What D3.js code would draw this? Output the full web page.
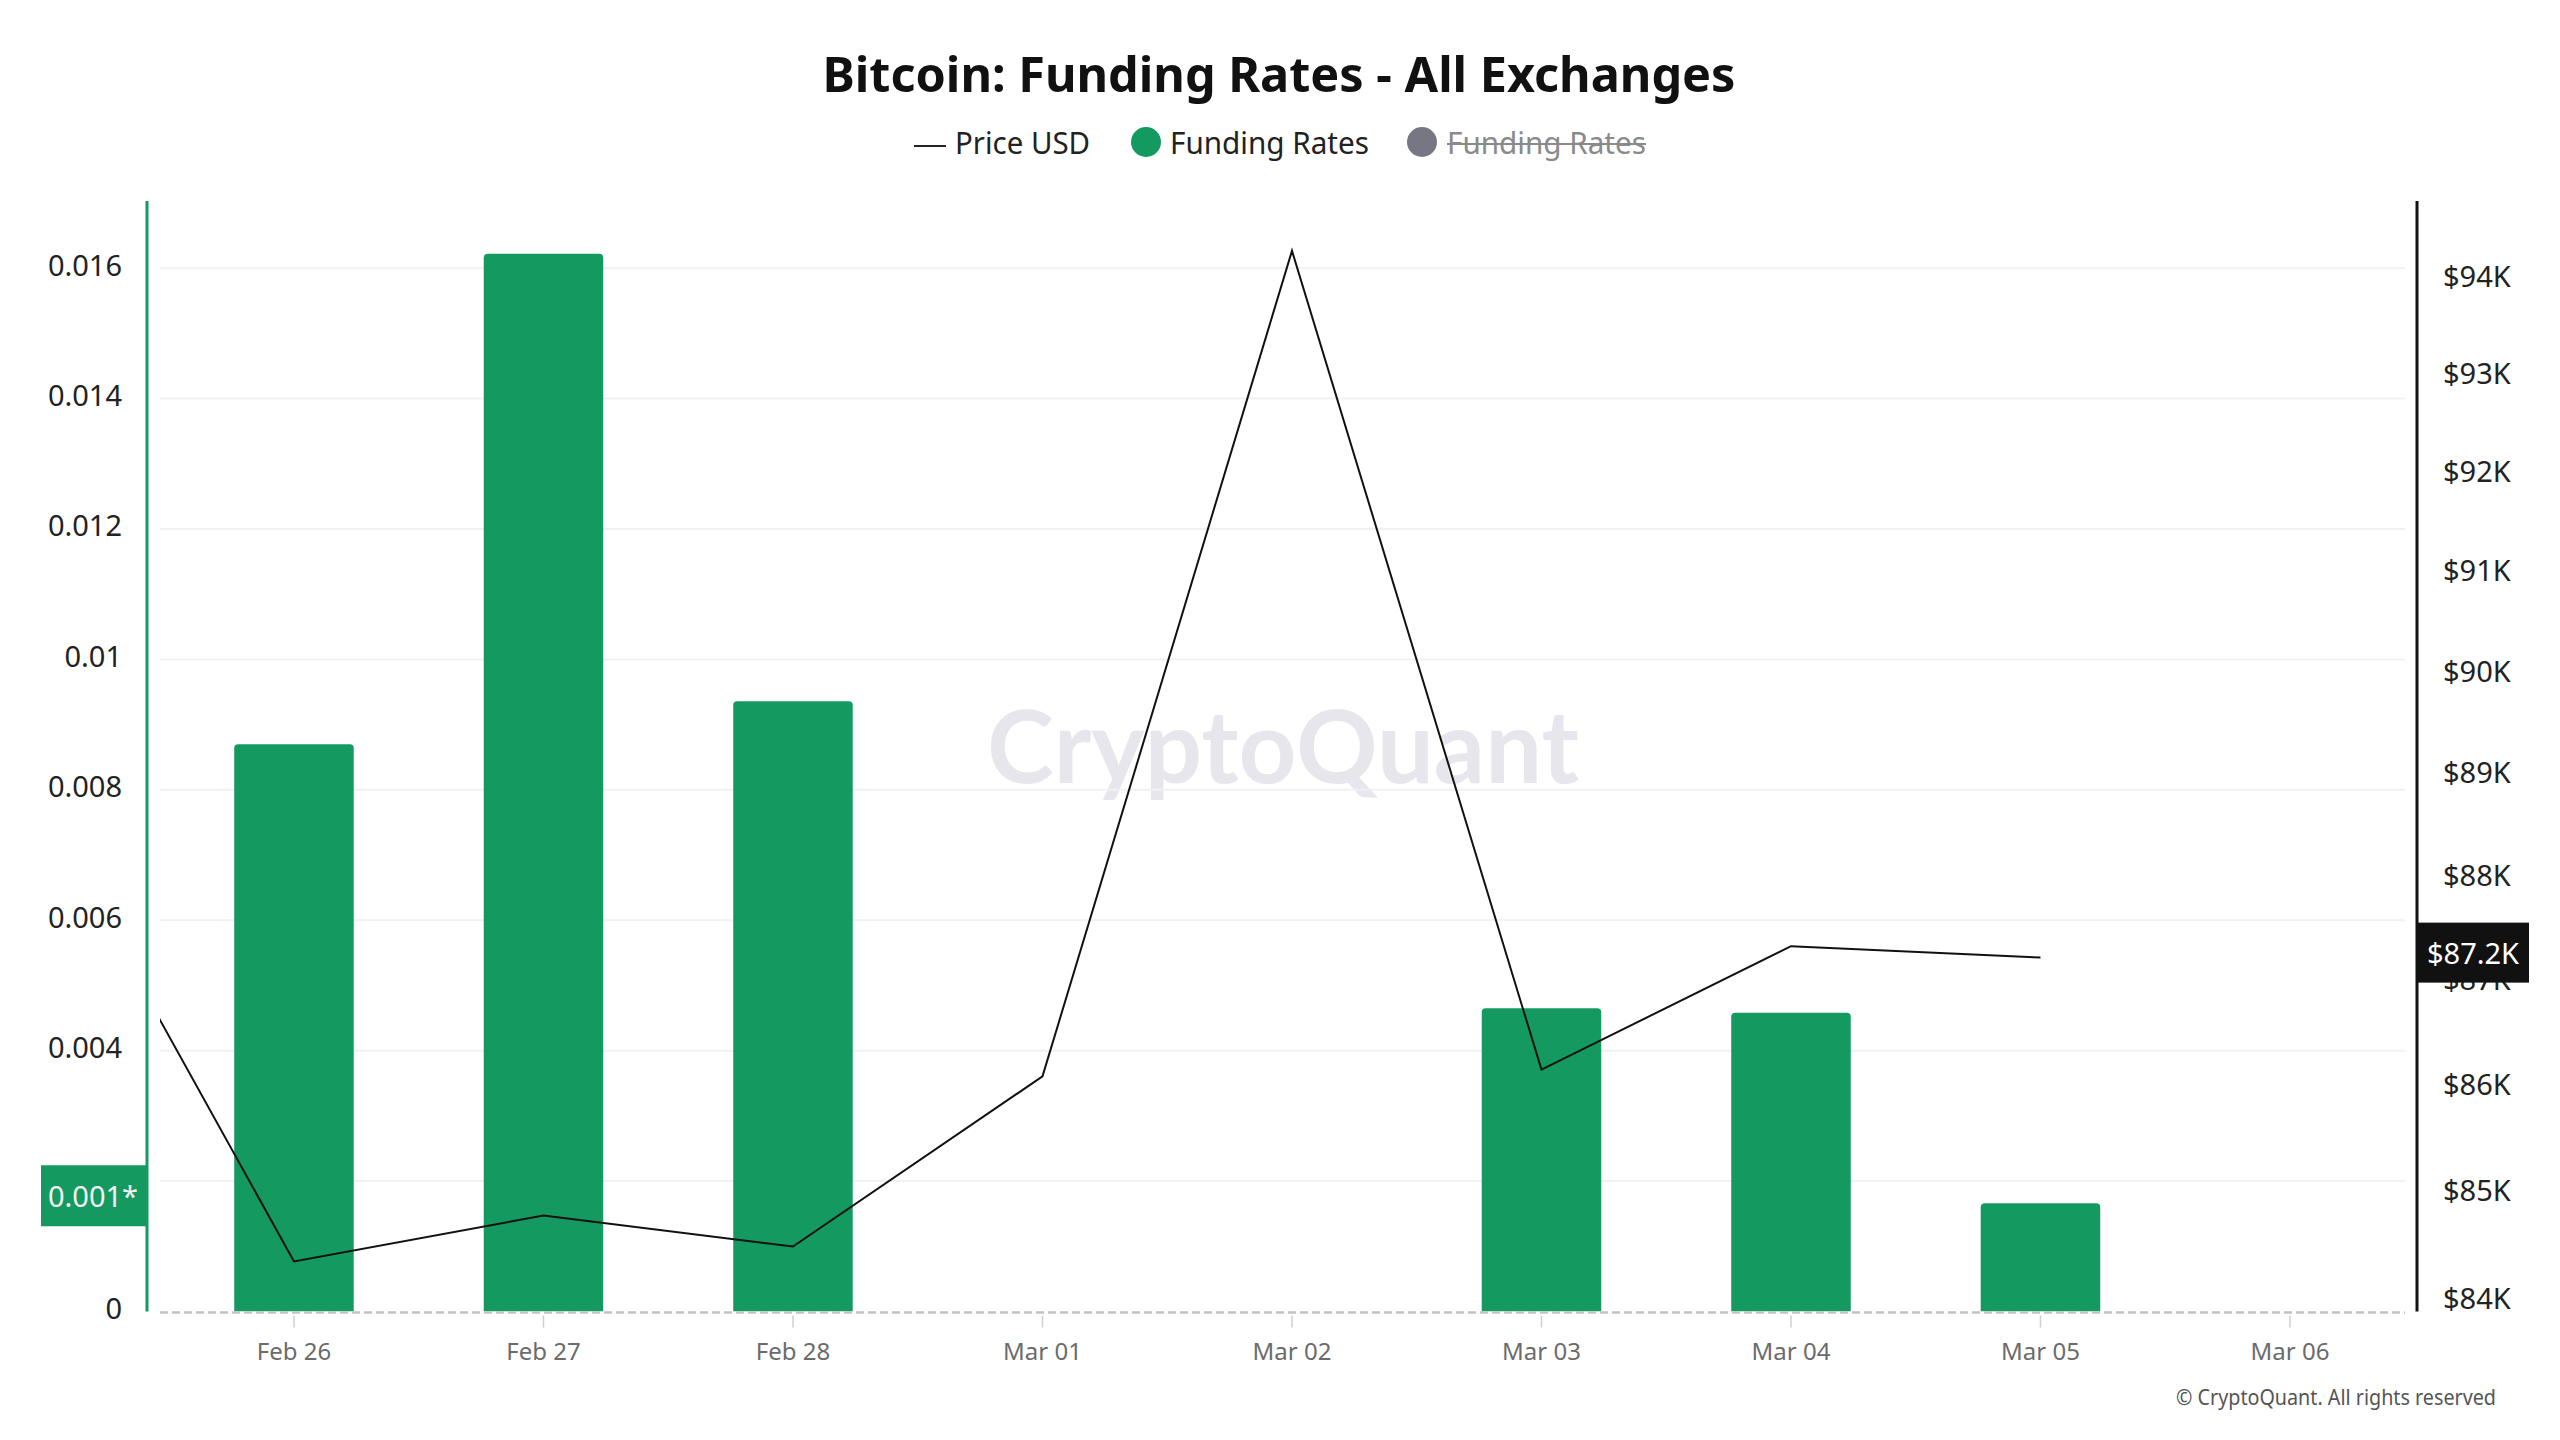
<!DOCTYPE html>
<html>
<head>
<meta charset="utf-8">
<script src="https://cdn.jsdelivr.net/npm/d3@7/dist/d3.min.js"></script>
<style>
  html, body { margin: 0; padding: 0; background: #ffffff; }
  svg { display: block; }
</style>
</head>
<body>
<svg id="chart" width="2560" height="1440"></svg>
<script>
// ---------------- DATA ----------------
const categories = ["Feb 25", "Feb 26", "Feb 27", "Feb 28", "Mar 01", "Mar 02", "Mar 03", "Mar 04", "Mar 05", "Mar 06"];
const fundingRates = [null, 0.0087, 0.01622, 0.00936, null, null, 0.00465, 0.00458, 0.00166, null];
const priceUSD = [88620, 84343, 84770, 84482, 86078, 94262, 86142, 87320, 87210, null];
const leftTicks = [0, 0.002, 0.004, 0.006, 0.008, 0.01, 0.012, 0.014, 0.016];
const leftTickLabelsShown = [0, 0.004, 0.006, 0.008, 0.01, 0.012, 0.014, 0.016]; // 0.002 hidden behind the last-value badge
const rightTicks = [84000, 85000, 86000, 87000, 88000, 89000, 90000, 91000, 92000, 93000, 94000];
const lastFundingLabel = "0.001*";
const lastPriceLabel = "$87.2K";
const titleText = "Bitcoin: Funding Rates - All Exchanges";

// ---------------- LAYOUT ----------------
const W = 2560, H = 1440;
const plot = { left: 160, right: 2405, top: 201, bottom: 1311.5 };
const leftAxisX = 147, rightAxisX = 2417;
const GREEN = "#149a61";
const FONT = "'Noto Sans', 'Open Sans', sans-serif";

const svg = d3.select("#chart");

const x = d3.scaleLinear().domain([0.463, 9.461]).range([plot.left, plot.right]);
const yL = d3.scaleLinear().domain([0, 0.01703]).range([plot.bottom, plot.top]);
const yR = d3.scaleLog().domain([83880, 94780]).range([plot.bottom, plot.top]);
const step = x(1) - x(0);

// clip
svg.append("defs").append("clipPath").attr("id", "plotClip")
  .append("rect").attr("x", plot.left).attr("y", plot.top - 5)
  .attr("width", plot.right - plot.left).attr("height", plot.bottom - plot.top + 5);

// Title
svg.append("text").attr("x", 1279).attr("y", 92)
  .attr("text-anchor", "middle")
  .attr("font-family", FONT).attr("font-weight", 700).attr("font-size", 48)
  .attr("fill", "#111").attr("textLength", 913).attr("lengthAdjust", "spacingAndGlyphs")
  .text(titleText);

// Legend
const lg = svg.append("g").attr("font-family", FONT).attr("font-size", 30);
lg.append("line").attr("x1", 914).attr("x2", 946).attr("y1", 146).attr("y2", 146)
  .attr("stroke", "#222").attr("stroke-width", 2);
lg.append("text").attr("x", 955).attr("y", 154).attr("fill", "#222")
  .attr("textLength", 135).attr("lengthAdjust", "spacingAndGlyphs").text("Price USD");
lg.append("circle").attr("cx", 1146).attr("cy", 142).attr("r", 15).attr("fill", GREEN);
lg.append("text").attr("x", 1170).attr("y", 154).attr("fill", "#222")
  .attr("textLength", 199).attr("lengthAdjust", "spacingAndGlyphs").text("Funding Rates");
lg.append("circle").attr("cx", 1422).attr("cy", 142).attr("r", 15).attr("fill", "#777784");
lg.append("text").attr("x", 1447).attr("y", 154).attr("fill", "#8a8a8a")
  .attr("textLength", 199).attr("lengthAdjust", "spacingAndGlyphs").text("Funding Rates");
lg.append("line").attr("x1", 1447).attr("x2", 1646).attr("y1", 144).attr("y2", 144)
  .attr("stroke", "#8a8a8a").attr("stroke-width", 2);

// Watermark
svg.append("text").attr("x", 1283).attr("y", 783)
  .attr("text-anchor", "middle")
  .attr("font-family", "Lato, 'Noto Sans', sans-serif").attr("font-weight", 700)
  .attr("font-size", 102).attr("fill", "#e6e6ec")
  .attr("textLength", 592).attr("lengthAdjust", "spacingAndGlyphs")
  .text("CryptoQuant");

// Gridlines
svg.append("g").selectAll("line").data(leftTicks.filter(d => d > 0)).join("line")
  .attr("x1", plot.left).attr("x2", plot.right)
  .attr("y1", d => yL(d)).attr("y2", d => yL(d))
  .attr("stroke", "#f1f1f1").attr("stroke-width", 2);

// Bars
const barW = step * 0.479;
const r = 4;
const barData = categories.map((c, i) => ({ c, i, v: fundingRates[i] })).filter(d => d.v != null);
svg.append("g").attr("clip-path", "url(#plotClip)").selectAll("path").data(barData).join("path")
  .attr("fill", GREEN)
  .attr("d", d => {
    const x0 = x(d.i) - barW / 2, x1 = x(d.i) + barW / 2;
    const y0 = yL(d.v), yb = yL(0);
    return `M${x0},${yb} L${x0},${y0 + r} Q${x0},${y0} ${x0 + r},${y0} L${x1 - r},${y0} Q${x1},${y0} ${x1},${y0 + r} L${x1},${yb} Z`;
  });

// Zero dashed line
svg.append("line").attr("x1", plot.left).attr("x2", plot.right)
  .attr("y1", yL(0) + 1).attr("y2", yL(0) + 1)
  .attr("stroke", "#c2c2c8").attr("stroke-width", 2.5).attr("stroke-dasharray", "8,4");

// Price line
const priceData = categories.map((c, i) => ({ i, v: priceUSD[i] })).filter(d => d.v != null);
svg.append("path").attr("clip-path", "url(#plotClip)")
  .datum(priceData)
  .attr("fill", "none").attr("stroke", "#111").attr("stroke-width", 2)
  .attr("stroke-linejoin", "miter")
  .attr("d", d3.line().x(d => x(d.i)).y(d => yR(d.v)));

// X axis ticks & labels
const xTickIdx = categories.map((c, i) => i).filter(i => x(i) >= plot.left && x(i) <= plot.right);
const xa = svg.append("g");
xa.selectAll("line").data(xTickIdx).join("line")
  .attr("x1", i => x(i)).attr("x2", i => x(i))
  .attr("y1", plot.bottom + 4).attr("y2", plot.bottom + 16)
  .attr("stroke", "#cfcfcf").attr("stroke-width", 1.5);
xa.selectAll("text").data(xTickIdx).join("text")
  .attr("x", i => x(i)).attr("y", 1360)
  .attr("text-anchor", "middle")
  .attr("font-family", FONT).attr("font-size", 24).attr("fill", "#6b6b6b")
  .text(i => categories[i]);

// Left axis
svg.append("line").attr("x1", leftAxisX).attr("x2", leftAxisX)
  .attr("y1", plot.top).attr("y2", plot.bottom)
  .attr("stroke", GREEN).attr("stroke-width", 3);
const fmtL = d => d === 0 ? "0" : String(+d.toFixed(3));
svg.append("g").selectAll("text").data(leftTickLabelsShown).join("text")
  .attr("x", 122).attr("y", d => yL(d) - 4)
  .attr("text-anchor", "end").attr("dominant-baseline", "central")
  .attr("font-family", FONT).attr("font-size", 29).attr("fill", "#222")
  .text(fmtL);

// Right axis
svg.append("line").attr("x1", rightAxisX).attr("x2", rightAxisX)
  .attr("y1", plot.top).attr("y2", plot.bottom)
  .attr("stroke", "#111").attr("stroke-width", 3);
svg.append("g").selectAll("text").data(rightTicks).join("text")
  .attr("x", 2443).attr("y", d => yR(d) - 1)
  .attr("dominant-baseline", "central")
  .attr("font-family", FONT).attr("font-size", 29).attr("fill", "#222")
  .text(d => "$" + Math.round(d / 1000) + "K");

// Last-value label: funding (left)
const lastF = fundingRates[8];
const fy = yL(lastF) - 8;
svg.append("rect").attr("x", 41).attr("y", fy - 30).attr("width", leftAxisX - 41).attr("height", 61)
  .attr("fill", GREEN);
svg.append("text").attr("x", 93).attr("y", fy)
  .attr("text-anchor", "middle").attr("dominant-baseline", "central")
  .attr("font-family", FONT).attr("font-size", 29).attr("fill", "#f2f2f2")
  .text(lastFundingLabel);

// Last-value label: price (right)
const lastP = priceUSD[8];
const py = yR(lastP) - 5;
svg.append("rect").attr("x", rightAxisX).attr("y", py - 30).attr("width", 112).attr("height", 60)
  .attr("fill", "#111");
svg.append("text").attr("x", rightAxisX + 56).attr("y", py)
  .attr("text-anchor", "middle").attr("dominant-baseline", "central")
  .attr("font-family", FONT).attr("font-size", 29).attr("fill", "#ffffff")
  .text(lastPriceLabel);

// Copyright
svg.append("text").attr("x", 2496).attr("y", 1405)
  .attr("text-anchor", "end")
  .attr("font-family", FONT).attr("font-size", 21).attr("fill", "#555")
  .attr("textLength", 320).attr("lengthAdjust", "spacingAndGlyphs")
  .text("© CryptoQuant. All rights reserved");
</script>
</body>
</html>
